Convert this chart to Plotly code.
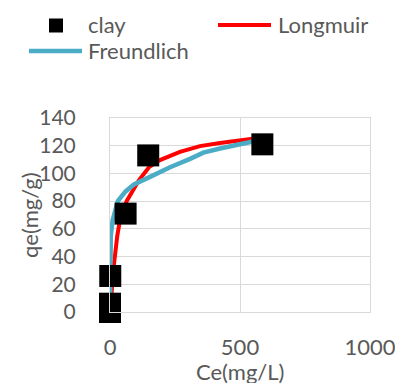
import plotly.graph_objects as go

# Measured adsorption data for clay
clay_ce = [0, 0, 1, 60, 147, 586]
clay_qe = [0, 6, 26, 71, 113, 121]

# Langmuir model curve
lang_ce = [0, 5, 9, 15, 28, 38, 64, 111, 150, 192, 269, 346, 423, 538, 586]
lang_qe = [0, 12, 21, 34, 55, 66, 80, 95, 104.5, 109.6, 115.6, 119.7, 122, 124.8, 126]

# Freundlich model curve
freu_ce = [0, 1, 2, 3, 10, 30, 60, 92, 154, 231, 308, 359, 423, 538, 586]
freu_qe = [3, 30, 48, 55, 66, 80, 87, 92, 97.5, 104.5, 110.5, 115, 118, 123, 124.5]

x_ticks = [0, 500, 1000]
y_ticks = [0, 20, 40, 60, 80, 100, 120, 140]

W, H = 395, 383
ML, MR, MT, MB = 110, 25, 118, 71
PW, PH = W - ML - MR, H - MT - MB
TXT = "#595959"
GRID = "#D9D9D9"
FONT = "Lato"
FS = 22
TICK_FS = 21


def px(xp):
    return (xp - ML) / PW


def py(yp):
    return (H - MB - yp) / PH


fig = go.Figure()
fig.add_trace(go.Scatter(x=lang_ce, y=lang_qe, mode="lines", name="Longmuir",
                         line=dict(color="#FF0000", width=4), cliponaxis=False))
fig.add_trace(go.Scatter(x=freu_ce, y=freu_qe, mode="lines", name="Freundlich",
                         line=dict(color="#4BACC6", width=4.5), cliponaxis=False))
fig.add_trace(go.Scatter(x=clay_ce, y=clay_qe, mode="markers", name="clay",
                         marker=dict(symbol="square", size=22, color="black",
                                     line=dict(width=0)),
                         cliponaxis=False))

# Legend drawn above the plot
shapes = [
    dict(type="rect", xref="paper", yref="paper",
         x0=px(49), x1=px(63), y0=py(32.5), y1=py(18.5),
         fillcolor="black", line=dict(width=0)),
    dict(type="line", xref="paper", yref="paper",
         x0=px(218), x1=px(271), y0=py(25), y1=py(25),
         line=dict(color="#FF0000", width=4)),
    dict(type="line", xref="paper", yref="paper",
         x0=px(29), x1=px(82), y0=py(51), y1=py(51),
         line=dict(color="#4BACC6", width=4.5)),
]
annotations = [
    dict(text="clay", x=px(86), y=py(25), xanchor="left", yanchor="middle"),
    dict(text="Longmuir", x=px(276), y=py(25), xanchor="left", yanchor="middle"),
    dict(text="Freundlich", x=px(86), y=py(51), xanchor="left", yanchor="middle"),
    dict(text="Ce(mg/L)", x=px(240), y=py(371), xanchor="center", yanchor="middle"),
    dict(text="qe(mg/g)", x=px(29), y=py(215), xanchor="center", yanchor="middle",
         textangle=-90),
]
for a in annotations:
    a.update(xref="paper", yref="paper", showarrow=False,
             font=dict(family=FONT, size=FS, color=TXT))

fig.update_layout(
    width=W, height=H,
    margin=dict(l=ML, r=MR, t=MT, b=MB, autoexpand=False),
    paper_bgcolor="white", plot_bgcolor="white",
    showlegend=False,
    shapes=shapes, annotations=annotations,
    font=dict(family=FONT, size=FS, color=TXT),
)
fig.update_xaxes(range=[0, 1000], tickvals=x_ticks, showgrid=True,
                 gridcolor=GRID, gridwidth=1, zeroline=False, automargin=False,
                 showline=True, linecolor=GRID, linewidth=1, mirror=True,
                 ticks="", ticklabelstandoff=16, ticklabeloverflow="allow",
                 tickfont=dict(family=FONT, size=FS, color=TXT))
fig.update_yaxes(range=[0, 140], tickvals=y_ticks, showgrid=True,
                 gridcolor=GRID, gridwidth=1, zeroline=False, automargin=False,
                 showline=True, linecolor=GRID, linewidth=1, mirror=True,
                 ticks="", ticklabelstandoff=29, ticklabeloverflow="allow",
                 tickfont=dict(family=FONT, size=TICK_FS, color=TXT))

fig.write_html("out.html")
